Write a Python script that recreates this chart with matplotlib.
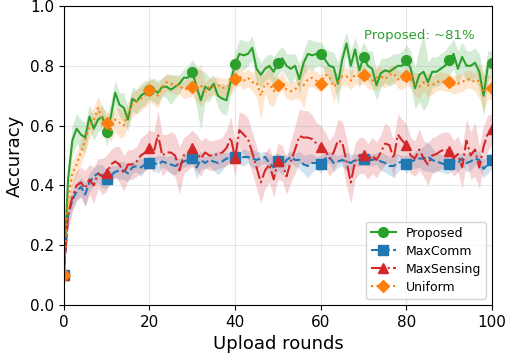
import numpy as np
import matplotlib
matplotlib.use("Agg")
import matplotlib.pyplot as plt

rounds = np.arange(0, 101)

# mean accuracy per upload round
proposed = [
    0.10, 0.42, 0.55, 0.59, 0.57, 0.56, 0.63, 0.59, 0.62, 0.63,
    0.58, 0.63, 0.71, 0.67, 0.66, 0.62, 0.69, 0.68, 0.70, 0.71,
    0.72, 0.72, 0.71, 0.73, 0.73, 0.72, 0.73, 0.74, 0.76, 0.76,
    0.78, 0.73, 0.685, 0.73, 0.72, 0.74, 0.70, 0.69, 0.685, 0.75,
    0.805, 0.84, 0.835, 0.84, 0.86, 0.79, 0.77, 0.79, 0.80, 0.78,
    0.81, 0.825, 0.80, 0.79, 0.80, 0.755, 0.81, 0.84, 0.835, 0.84,
    0.84, 0.82, 0.80, 0.795, 0.74, 0.82, 0.875, 0.80, 0.855, 0.785,
    0.83, 0.80, 0.79, 0.735, 0.775, 0.785, 0.78, 0.79, 0.80, 0.80,
    0.82, 0.79, 0.725, 0.77, 0.78, 0.745, 0.78, 0.78, 0.79, 0.80,
    0.82, 0.84, 0.79, 0.83, 0.80, 0.80, 0.81, 0.78, 0.70, 0.80,
    0.81]
max_comm = [
    0.10, 0.30, 0.35, 0.38, 0.395, 0.37, 0.41, 0.43, 0.44, 0.43,
    0.42, 0.435, 0.445, 0.45, 0.45, 0.44, 0.46, 0.465, 0.46, 0.47,
    0.475, 0.475, 0.47, 0.48, 0.475, 0.47, 0.465, 0.47, 0.48, 0.485,
    0.49, 0.46, 0.485, 0.475, 0.485, 0.48, 0.475, 0.48, 0.49, 0.49,
    0.494, 0.49, 0.495, 0.495, 0.49, 0.485, 0.49, 0.495, 0.475, 0.46,
    0.48, 0.465, 0.485, 0.495, 0.485, 0.485, 0.47, 0.465, 0.475, 0.475,
    0.47, 0.49, 0.495, 0.475, 0.48, 0.485, 0.48, 0.475, 0.485, 0.485,
    0.487, 0.485, 0.485, 0.49, 0.48, 0.475, 0.465, 0.465, 0.475, 0.48,
    0.47, 0.48, 0.485, 0.49, 0.49, 0.497, 0.485, 0.48, 0.475, 0.47,
    0.47, 0.48, 0.475, 0.49, 0.475, 0.48, 0.49, 0.485, 0.455, 0.47,
    0.485]
max_sensing = [
    0.10, 0.30, 0.36, 0.40, 0.41, 0.39, 0.42, 0.40, 0.44, 0.43,
    0.44, 0.47, 0.48, 0.47, 0.44, 0.47, 0.47, 0.48, 0.50, 0.51,
    0.525, 0.51, 0.57, 0.50, 0.51, 0.51, 0.50, 0.45, 0.50, 0.51,
    0.525, 0.51, 0.49, 0.51, 0.50, 0.50, 0.505, 0.51, 0.525, 0.56,
    0.49, 0.585, 0.57, 0.555, 0.51, 0.46, 0.41, 0.45, 0.47, 0.42,
    0.48, 0.475, 0.43, 0.48, 0.52, 0.565, 0.56, 0.56, 0.555, 0.54,
    0.53, 0.52, 0.49, 0.51, 0.55, 0.545, 0.48, 0.41, 0.48, 0.50,
    0.50, 0.48, 0.50, 0.485, 0.51, 0.54, 0.535, 0.49, 0.57, 0.55,
    0.535, 0.50, 0.49, 0.52, 0.49, 0.47, 0.50, 0.505, 0.515, 0.52,
    0.515, 0.49, 0.505, 0.46, 0.55, 0.50, 0.52, 0.46, 0.53, 0.575,
    0.59]
uniform = [
    0.10, 0.35, 0.44, 0.47, 0.51, 0.55, 0.60, 0.62, 0.66, 0.62,
    0.61, 0.585, 0.62, 0.61, 0.60, 0.64, 0.67, 0.68, 0.69, 0.70,
    0.72, 0.71, 0.70, 0.73, 0.745, 0.74, 0.735, 0.735, 0.72, 0.725,
    0.73, 0.73, 0.735, 0.715, 0.73, 0.73, 0.735, 0.725, 0.73, 0.735,
    0.755, 0.765, 0.75, 0.76, 0.745, 0.745, 0.70, 0.74, 0.74, 0.715,
    0.735, 0.75, 0.72, 0.715, 0.72, 0.74, 0.735, 0.755, 0.76, 0.75,
    0.74, 0.77, 0.765, 0.73, 0.745, 0.765, 0.765, 0.75, 0.77, 0.765,
    0.77, 0.755, 0.75, 0.76, 0.765, 0.755, 0.77, 0.775, 0.755, 0.75,
    0.765, 0.755, 0.74, 0.73, 0.745, 0.735, 0.735, 0.745, 0.75, 0.745,
    0.745, 0.735, 0.74, 0.745, 0.755, 0.755, 0.745, 0.75, 0.71, 0.73,
    0.725]

# spread across runs (half width of shaded band)
proposed_std = [
    0.00, 0.05, 0.05, 0.05, 0.05, 0.05, 0.04, 0.04, 0.04, 0.04,
    0.05, 0.05, 0.04, 0.04, 0.05, 0.04, 0.04, 0.04, 0.04, 0.04,
    0.03, 0.04, 0.04, 0.03, 0.04, 0.05, 0.04, 0.03, 0.03, 0.04,
    0.04, 0.07, 0.10, 0.05, 0.04, 0.03, 0.04, 0.05, 0.05, 0.04,
    0.04, 0.05, 0.05, 0.04, 0.04, 0.05, 0.04, 0.04, 0.04, 0.05,
    0.04, 0.04, 0.04, 0.05, 0.04, 0.05, 0.04, 0.05, 0.05, 0.04,
    0.04, 0.04, 0.05, 0.05, 0.07, 0.05, 0.04, 0.05, 0.04, 0.06,
    0.05, 0.05, 0.06, 0.05, 0.05, 0.04, 0.05, 0.05, 0.04, 0.05,
    0.05, 0.06, 0.07, 0.09, 0.13, 0.07, 0.05, 0.05, 0.05, 0.05,
    0.05, 0.05, 0.06, 0.05, 0.05, 0.05, 0.05, 0.06, 0.07, 0.05,
    0.04]
max_comm_std = [
    0.00, 0.03, 0.03, 0.03, 0.03, 0.04, 0.03, 0.03, 0.03, 0.04,
    0.03, 0.03, 0.02, 0.03, 0.03, 0.03, 0.02, 0.02, 0.03, 0.02,
    0.02, 0.02, 0.03, 0.02, 0.02, 0.03, 0.03, 0.02, 0.02, 0.02,
    0.02, 0.04, 0.03, 0.02, 0.02, 0.03, 0.04, 0.03, 0.02, 0.02,
    0.02, 0.02, 0.03, 0.02, 0.03, 0.03, 0.02, 0.02, 0.03, 0.04,
    0.03, 0.03, 0.02, 0.02, 0.02, 0.03, 0.03, 0.04, 0.03, 0.02,
    0.03, 0.02, 0.02, 0.03, 0.02, 0.02, 0.03, 0.03, 0.02, 0.02,
    0.02, 0.02, 0.02, 0.02, 0.03, 0.03, 0.03, 0.04, 0.03, 0.02,
    0.03, 0.02, 0.03, 0.03, 0.04, 0.05, 0.04, 0.03, 0.03, 0.03,
    0.03, 0.02, 0.03, 0.02, 0.03, 0.03, 0.02, 0.03, 0.03, 0.03,
    0.03]
max_sensing_std = [
    0.00, 0.05, 0.05, 0.05, 0.05, 0.06, 0.05, 0.06, 0.05, 0.06,
    0.06, 0.05, 0.05, 0.06, 0.06, 0.05, 0.05, 0.05, 0.06, 0.06,
    0.06, 0.07, 0.08, 0.07, 0.06, 0.07, 0.07, 0.08, 0.06, 0.06,
    0.06, 0.06, 0.06, 0.05, 0.05, 0.05, 0.05, 0.05, 0.06, 0.07,
    0.06, 0.06, 0.07, 0.07, 0.07, 0.07, 0.07, 0.06, 0.06, 0.06,
    0.06, 0.06, 0.06, 0.07, 0.08, 0.09, 0.09, 0.09, 0.08, 0.07,
    0.07, 0.06, 0.06, 0.06, 0.07, 0.07, 0.08, 0.07, 0.06, 0.06,
    0.06, 0.06, 0.06, 0.06, 0.06, 0.07, 0.06, 0.06, 0.07, 0.07,
    0.07, 0.06, 0.06, 0.07, 0.06, 0.07, 0.06, 0.06, 0.06, 0.06,
    0.06, 0.06, 0.06, 0.07, 0.07, 0.08, 0.09, 0.07, 0.07, 0.06,
    0.05]
uniform_std = [
    0.00, 0.04, 0.04, 0.04, 0.04, 0.04, 0.04, 0.04, 0.04, 0.04,
    0.04, 0.04, 0.04, 0.05, 0.04, 0.04, 0.04, 0.04, 0.04, 0.04,
    0.04, 0.04, 0.04, 0.03, 0.03, 0.03, 0.03, 0.03, 0.03, 0.03,
    0.03, 0.05, 0.07, 0.03, 0.03, 0.03, 0.03, 0.03, 0.03, 0.03,
    0.03, 0.03, 0.03, 0.03, 0.03, 0.05, 0.08, 0.03, 0.07, 0.05,
    0.03, 0.03, 0.03, 0.03, 0.03, 0.05, 0.08, 0.03, 0.03, 0.03,
    0.03, 0.03, 0.03, 0.05, 0.03, 0.03, 0.03, 0.03, 0.03, 0.03,
    0.03, 0.03, 0.03, 0.04, 0.03, 0.03, 0.03, 0.03, 0.03, 0.03,
    0.03, 0.03, 0.04, 0.04, 0.03, 0.04, 0.03, 0.03, 0.03, 0.03,
    0.03, 0.03, 0.03, 0.03, 0.03, 0.03, 0.03, 0.06, 0.06, 0.04,
    0.04]

series = [
    ("Proposed", proposed, proposed_std, "tab:green", "-", "o"),
    ("MaxComm", max_comm, max_comm_std, "tab:blue", "--", "s"),
    ("MaxSensing", max_sensing, max_sensing_std, "tab:red", "-.", "^"),
    ("Uniform", uniform, uniform_std, "tab:orange", ":", "D"),
]

fig, ax = plt.subplots(figsize=(5.1, 3.53), dpi=100)
fig.subplots_adjust(left=0.125, right=0.965, bottom=0.136, top=0.983)

for name, mean, std, color, ls, mk in series:
    mean = np.array(mean)
    std = np.array(std)
    ax.fill_between(rounds, mean - std, mean + std, color=color, alpha=0.2, lw=0)
    ax.plot(rounds, mean, color=color, linestyle=ls, lw=1.5,
            marker=mk, markersize=7 if mk != "D" else 6, markevery=10, label=name)

ax.text(70, 0.9, "Proposed: ~81%", color="tab:green", fontsize=9.5,
        ha="left", va="center")

ax.set_xlim(0, 100)
ax.set_ylim(0, 1.0)
ax.set_xlabel("Upload rounds", fontsize=13)
ax.set_ylabel("Accuracy", fontsize=13)
ax.tick_params(labelsize=11)
ax.grid(True, alpha=0.3)
ax.legend(loc="lower right", fontsize=9, labelspacing=0.4)

fig.savefig("out.png", dpi=100)
